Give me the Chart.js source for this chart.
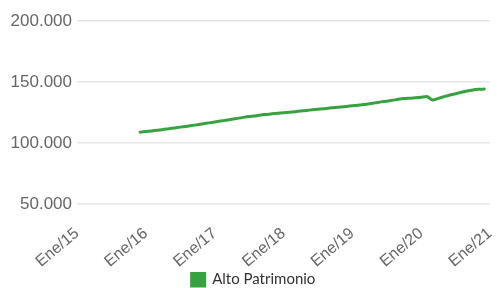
<!DOCTYPE html>
<html>
<head>
<meta charset="utf-8">
<script src="https://cdn.jsdelivr.net/npm/chart.js@4.4.1/dist/chart.umd.min.js"></script>
<style>
  html, body { margin: 0; padding: 0; background: #fff; }
  #wrap { width: 497px; height: 288px; }
</style>
</head>
<body>
<div id="wrap"><canvas id="chart"></canvas></div>
<script>
const months = ['Ene', 'Feb', 'Mar', 'Abr', 'May', 'Jun', 'Jul', 'Ago', 'Sep', 'Oct', 'Nov', 'Dic'];
const years = ['15', '16', '17', '18', '19', '20', '21'];
const seriesName = 'Alto Patrimonio';
// valores mensuales desde Dic/15 hasta Dic/20
const altoPatrimonio = [
  108900, 109400, 109900, 110500, 111000, 111700, 112300, 113000, 113600, 114300,
  115000, 115800, 116500, 117200, 118000, 118700, 119400, 120200, 121000, 121700,
  122100, 123000, 123400, 123900, 124300, 124800, 125200, 125700, 126200, 126700,
  127200, 127700, 128100, 128600, 129100, 129600, 130000, 130500, 131000, 131500,
  132200, 132900, 133700, 134300, 135000, 135800, 136400, 136700, 137000, 137500,
  138100, 135200, 136600, 138000, 139300, 140400, 141600, 142700, 143500, 144000,
  144200
];
const startIndex = 11;
const yTicks = [50000, 100000, 150000, 200000];

const labels = [];
years.forEach((y, i) => {
  months.forEach(m => {
    if (i < years.length - 1 || m === 'Ene') labels.push(m + '/' + y);
  });
});
const values = labels.map((l, i) => {
  const v = altoPatrimonio[i - startIndex];
  return v === undefined ? null : v;
});

function miles(v) {
  return String(v).replace(/\B(?=(\d{3})+(?!\d))/g, '.');
}

new Chart(document.getElementById('chart'), {
  type: 'line',
  data: {
    labels: labels,
    datasets: [{
      label: seriesName,
      data: values,
      borderColor: '#37a340',
      backgroundColor: '#37a340',
      borderWidth: 3,
      pointRadius: 0,
      tension: 0.2,
      borderCapStyle: 'round',
      fill: false,
    }],
  },
  options: {
    responsive: true,
    maintainAspectRatio: false,
    animation: false,
    layout: { padding: { top: 21, right: 0, left: 10, bottom: -9 } },
    plugins: {
      legend: {
        position: 'bottom',
        labels: {
          boxWidth: 13,
          boxHeight: 13,
          color: '#333',
          font: { family: 'Lato', size: 15 },
          padding: 0,
        },
      },
      tooltip: { enabled: false },
    },
    scales: {
      x: {
        grid: { display: false },
        border: { display: false },
        afterFit: axis => { axis.paddingRight = 7; axis.height = 68; },
        ticks: {
          autoSkip: false,
          maxRotation: 40,
          minRotation: 40,
          padding: 12,
          color: '#666',
          font: { family: 'Liberation Sans', size: 16 },
          callback: function (v, i) {
            return i % 12 === 0 ? labels[i] : null;
          },
        },
      },
      y: {
        min: 50000,
        max: 200000,
        border: { display: false },
        grid: { color: '#e6e6e6', drawTicks: false, lineWidth: 1.5 },
        afterBuildTicks: axis => { axis.ticks = yTicks.map(v => ({ value: v })); },
        afterFit: axis => { axis.width = 67; },
        ticks: {
          color: '#666',
          padding: 5,
          font: { family: 'Liberation Sans', size: 17 },
          callback: v => miles(v),
        },
      },
    },
  },
});
</script>
</body>
</html>
